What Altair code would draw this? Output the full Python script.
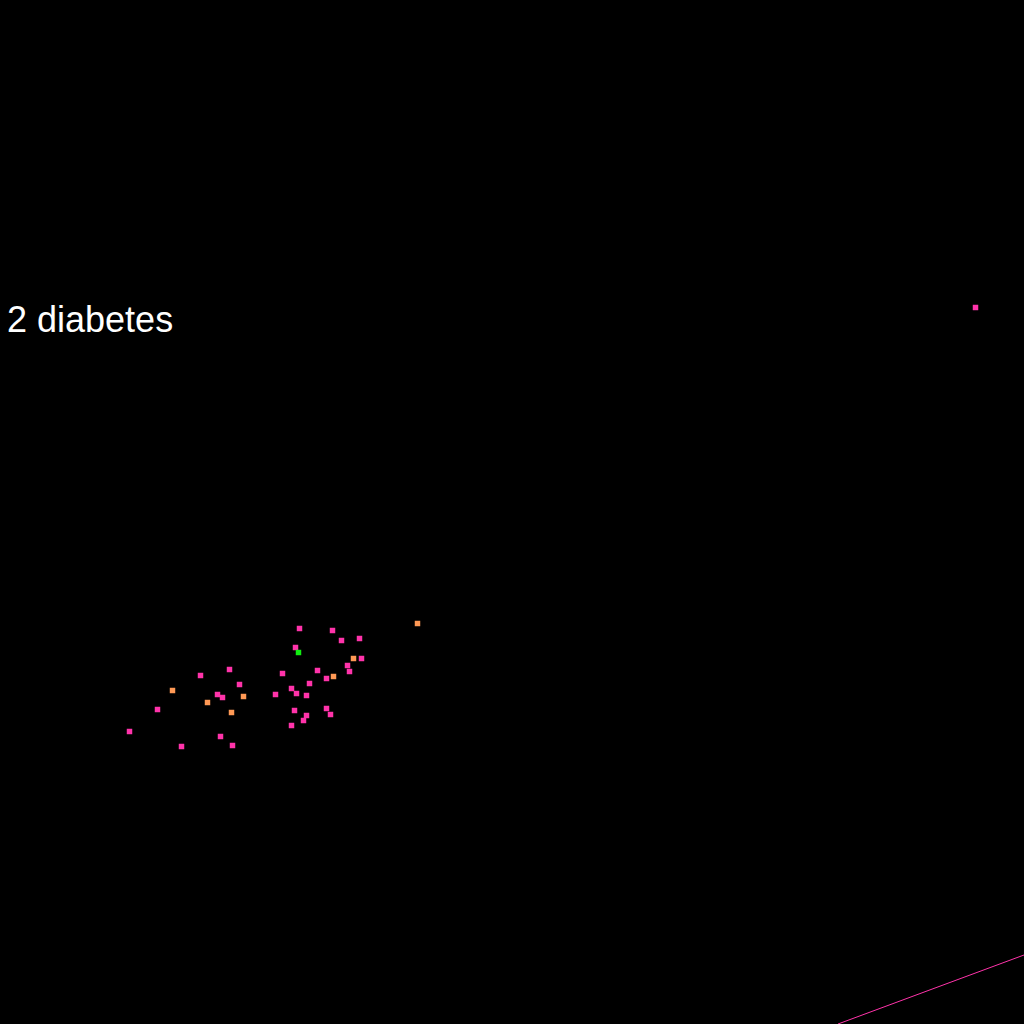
import altair as alt
import pandas as pd

# scatter points (pixel-like coordinates, y measured from top)
pt_x = [299.5, 332.5, 417.5, 341.5, 359.5, 295.5, 298.5, 353.5, 361.5, 347.5, 349.5, 229.5, 200.5, 282.5, 317.5,
        326.5, 333.5, 172.5, 239.5, 309.5, 217.5, 222.5, 243.5, 275.5, 291.5, 296.5, 306.5, 207.5, 157.5, 231.5,
        294.5, 306.5, 303.5, 326.5, 330.5, 291.5, 129.5, 220.5, 181.5, 232.5, 975.5]
pt_y = [628.5, 630.5, 623.5, 640.5, 638.5, 647.5, 652.5, 658.5, 658.5, 665.5, 671.5, 669.5, 675.5, 673.5, 670.5,
        678.5, 676.5, 690.5, 684.5, 683.5, 694.5, 697.5, 696.5, 694.5, 688.5, 693.5, 695.5, 702.5, 709.5, 712.5,
        710.5, 715.5, 720.5, 708.5, 714.5, 725.5, 731.5, 736.5, 746.5, 745.5, 307.5]
pt_group = ["a", "a", "b", "a", "a", "a", "c", "b", "a", "a", "a", "a", "a", "a", "a",
            "a", "b", "b", "a", "a", "a", "a", "b", "a", "a", "a", "a", "b", "a", "b",
            "a", "a", "a", "a", "a", "a", "a", "a", "a", "a", "a"]

line_x = [838, 1024]
line_y = [1024, 955]

label_text = ["2 diabetes"]
label_x = [7]
label_y = [332]

group_domain = ["a", "b", "c"]
group_colors = ["#ff33aa", "#ff9955", "#11ee11"]

pts = pd.DataFrame({"x": pt_x, "y": pt_y, "g": pt_group})
lines = pd.DataFrame({"x": line_x, "y": line_y})
labels = pd.DataFrame({"x": label_x, "y": label_y, "t": label_text})

xs = alt.Scale(domain=[0, 1024], nice=False, zero=False)
ys = alt.Scale(domain=[0, 1024], nice=False, zero=False, reverse=True)

points = alt.Chart(pts).mark_square(size=30, opacity=1, clip=True).encode(
    x=alt.X("x:Q", scale=xs, axis=None),
    y=alt.Y("y:Q", scale=ys, axis=None),
    color=alt.Color("g:N", scale=alt.Scale(domain=group_domain, range=group_colors), legend=None),
)

line = alt.Chart(lines).mark_line(color="#ff33aa", strokeWidth=1, clip=True).encode(
    x=alt.X("x:Q", scale=xs, axis=None),
    y=alt.Y("y:Q", scale=ys, axis=None),
)

text = alt.Chart(labels).mark_text(
    align="left", baseline="alphabetic", fontSize=36, font="Liberation Sans", color="white"
).encode(
    x=alt.X("x:Q", scale=xs, axis=None),
    y=alt.Y("y:Q", scale=ys, axis=None),
    text="t:N",
)

chart = alt.layer(line, points, text).properties(
    width=1024, height=1024, background="black", padding=0,
    autosize=alt.AutoSizeParams(type="none"),
).configure_view(stroke=None)

chart.save("out.html", embed_options={"renderer": "svg", "actions": False})
